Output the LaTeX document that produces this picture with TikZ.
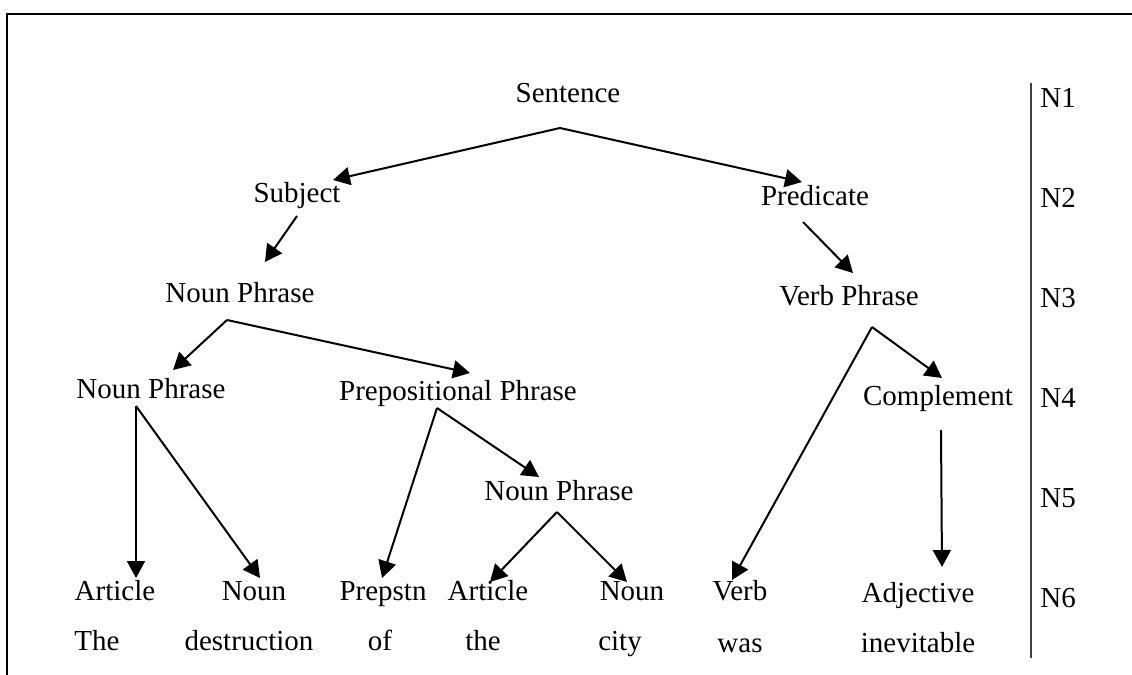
\documentclass[tikz,border=0pt]{standalone}
\usepackage{fontspec}
\setmainfont{Liberation Serif}
\usetikzlibrary{arrows.meta}

\begin{document}
\begin{tikzpicture}[
  x=0.5pt, y=-0.5pt,
  word/.style={anchor=base, inner sep=0pt, font=\fontsize{14.5}{17}\selectfont},
  lvl/.style={anchor=base west, inner sep=0pt, font=\fontsize{14.5}{17}\selectfont},
  arr/.style={-{Triangle[length=8.5pt, width=9pt]}, line width=1pt}
]
\useasboundingbox (0,0) rectangle (1132,675);
\draw[line width=1pt] (7,675) -- (7,14) -- (1132,14);

% tree
\node[word] (sent) at (568,102) {Sentence};
\node[word] (subj) at (297,202) {Subject};
\node[word] (pred) at (815,205) {Predicate};
\node[word] (np1) at (240,302) {Noun Phrase};
\node[word] (vp) at (849,305) {Verb Phrase};
\node[word] (np2) at (151,398) {Noun Phrase};
\node[word] (pp) at (458,400) {Prepositional Phrase};
\node[word] (comp) at (938,405) {Complement};
\node[word] (np3) at (559,500) {Noun Phrase};
\node[word] (art1) at (115,600) {Article};
\node[word] (noun1) at (254,600) {Noun};
\node[word] (prep) at (383,600) {Prepstn};
\node[word] (art2) at (488,600) {Article};
\node[word] (noun2) at (632,600) {Noun};
\node[word] (verb) at (740,600) {Verb};
\node[word] (adj) at (918,602) {Adjective};

% words
\node[word] (w1) at (97,650) {The};
\node[word] (w2) at (249,650) {destruction};
\node[word] (w3) at (380,650) {of};
\node[word] (w4) at (483,650) {the};
\node[word] (w5) at (620,650) {city};
\node[word] (w6) at (740,652) {was};
\node[word] (w7) at (918,652) {inevitable};

% levels
\draw[black!75, line width=0.8pt] (1031,83) -- (1031,658);
\node[lvl] (l1) at (1040,107) {N1};
\node[lvl] (l2) at (1040,207) {N2};
\node[lvl] (l3) at (1040,307) {N3};
\node[lvl] (l4) at (1040,407) {N4};
\node[lvl] (l5) at (1040,507) {N5};
\node[lvl] (l6) at (1040,607) {N6};

\coordinate (sent-fork) at ([shift={(-8,26)}]sent.base);
\coordinate (np1-fork) at ([shift={(-13,18)}]np1.base);
\coordinate (vp-fork) at ([shift={(23,22)}]vp.base);
\coordinate (np2-fork) at ([shift={(-15,8)}]np2.base);
\coordinate (pp-fork) at ([shift={(-21,8)}]pp.base);
\coordinate (np3-fork) at ([shift={(-2,12)}]np3.base);

\draw[arr] (sent-fork) -- ([shift={(36,-22)}]subj.base);
\draw[arr] (sent-fork) -- ([shift={(-13,-23)}]pred.base);
\draw[arr] ([shift={(0,14)}]subj.base) -- ([shift={(25,-40)}]np1.base);
\draw[arr] ([shift={(-12,17)}]pred.base) -- ([shift={(4,-32)}]vp.base);
\draw[arr] (np1-fork) -- ([shift={(22,-28)}]np2.base);
\draw[arr] (np1-fork) -- ([shift={(12,-27)}]pp.base);
\draw[arr] (vp-fork) -- ([shift={(4,-27)}]comp.base);
\draw[arr] (vp-fork) -- ([shift={(-8,-20)}]verb.base);
\draw[arr] (np2-fork) -- ([shift={(21,-22)}]art1.base);
\draw[arr] (np2-fork) -- ([shift={(6,-22)}]noun1.base);
\draw[arr] (pp-fork) -- ([shift={(-1,-22)}]prep.base);
\draw[arr] (pp-fork) -- ([shift={(-20,-23)}]np3.base);
\draw[arr] (np3-fork) -- ([shift={(2,-18)}]art2.base);
\draw[arr] (np3-fork) -- ([shift={(-5,-18)}]noun2.base);
\draw[arr] ([shift={(3,25)}]comp.base) -- ([shift={(24,-35)}]adj.base);
\end{tikzpicture}
\end{document}
